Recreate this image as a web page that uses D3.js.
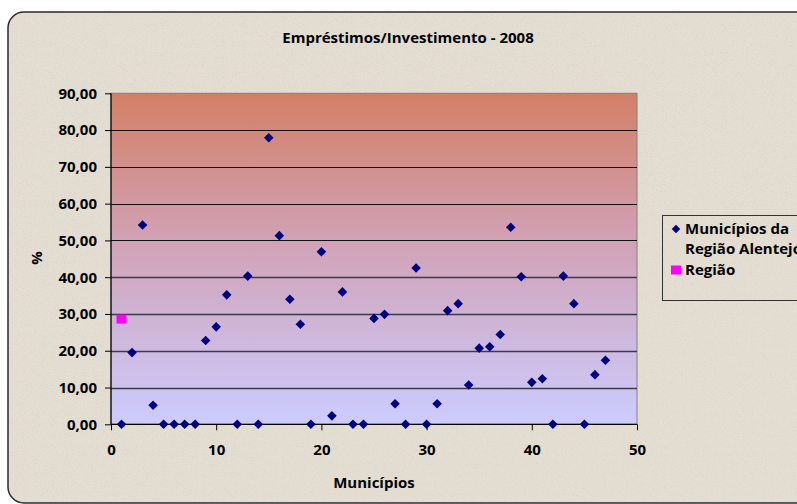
<!DOCTYPE html>
<html>
<head>
<meta charset="utf-8">
<script src="https://cdn.jsdelivr.net/npm/d3@7"></script>
<style>
  html, body { margin: 0; padding: 0; background: #fff; }
  svg { display: block; font-family: "Open Sans", Lato, sans-serif; }
</style>
</head>
<body>
<svg id="chart" width="797" height="504"></svg>
<script>
// ---- data ----
const municipios = [1,2,3,4,5,6,7,8,9,10,11,12,13,14,15,16,17,18,19,20,21,22,23,24,25,26,27,28,29,30,31,32,33,34,35,36,37,38,39,40,41,42,43,44,45,46,47];
const valoresMunicipios = [0,19.5,54.2,5.2,0,0,0,0,22.8,26.5,35.2,0,40.3,0,77.9,51.3,34.0,27.2,0,46.9,2.3,36.0,0,0,28.8,29.9,5.6,0,42.5,0,5.6,30.9,32.8,10.7,20.7,21.1,24.4,53.6,40.1,11.4,12.4,0,40.3,32.8,0,13.5,17.4];
const regiaoX = [1];
const regiaoValores = [28.6];
const xTicks = [0,10,20,30,40,50];
const yTicks = [0,10,20,30,40,50,60,70,80,90];
const titulo = "Empréstimos/Investimento - 2008";
const tituloX = "Municípios";
const tituloY = "%";
const legenda = [["Municípios da", "Região Alentejo"], ["Região"]];

// ---- layout ----
const svg = d3.select("#chart");
const W = 797, H = 504;
const plot = {left: 111, top: 93.3, right: 637, bottom: 424.3};
const FONT = "'Open Sans', sans-serif";
const FS = 15;

const defs = svg.append("defs");
const grad = defs.append("linearGradient").attr("id", "bg").attr("x1", 0).attr("y1", 0).attr("x2", 0).attr("y2", 1);
grad.append("stop").attr("offset", "0%").attr("stop-color", "#d37f66");
grad.append("stop").attr("offset", "45%").attr("stop-color", "#d1a2b6");
grad.append("stop").attr("offset", "100%").attr("stop-color", "#ccccff");

const filt = defs.append("filter").attr("id", "noise").attr("x", 0).attr("y", 0).attr("width", "100%").attr("height", "100%");
filt.append("feTurbulence").attr("type", "fractalNoise").attr("baseFrequency", 0.9).attr("numOctaves", 2).attr("seed", 3).attr("result", "t");
filt.append("feColorMatrix").attr("in", "t").attr("type", "matrix")
  .attr("values", "0 0 0 0 0.45  0 0 0 0 0.42  0 0 0 0 0.38  0 0 0 -1.6 0.75").attr("result", "n");
filt.append("feComposite").attr("in", "n").attr("in2", "SourceGraphic").attr("operator", "in");

const clip = defs.append("clipPath").attr("id", "chartclip");
clip.append("rect").attr("x", 8).attr("y", 12).attr("width", 820).attr("height", 491).attr("rx", 16);

// chart background
svg.append("rect").attr("x", 0).attr("y", 0).attr("width", W).attr("height", H).attr("fill", "#fff");
svg.append("rect").attr("x", 8).attr("y", 12).attr("width", 820).attr("height", 491).attr("rx", 16).attr("fill", "#e3ddd2");
svg.append("rect").attr("x", 8).attr("y", 12).attr("width", 820).attr("height", 491).attr("rx", 16)
  .attr("fill", "#e3ddd2").attr("filter", "url(#noise)").attr("clip-path", "url(#chartclip)").attr("opacity", 0.3);
svg.append("rect").attr("x", 8).attr("y", 12).attr("width", 820).attr("height", 491).attr("rx", 16)
  .attr("fill", "none").attr("stroke", "#2b2b2b").attr("stroke-width", 1.5);

// scales
const x = d3.scaleLinear().domain([0, 50]).range([plot.left, plot.right]);
const y = d3.scaleLinear().domain([0, 90]).range([plot.bottom, plot.top]);
const fmt = v => d3.format(".2f")(v).replace(".", ",");

// plot area
svg.append("rect").attr("x", plot.left).attr("y", plot.top)
  .attr("width", plot.right - plot.left).attr("height", plot.bottom - plot.top)
  .attr("fill", "url(#bg)").attr("stroke", "#808080").attr("stroke-width", 1);

// gridlines
svg.append("g").selectAll("line").data(yTicks.filter(d => d > 0 && d < 90)).join("line")
  .attr("x1", plot.left).attr("x2", plot.right)
  .attr("y1", d => Math.round(y(d)) + 0.5).attr("y2", d => Math.round(y(d)) + 0.5)
  .attr("stroke", d => d >= 50 ? "#111" : "#3a3a48").attr("stroke-width", d => d >= 50 ? 1 : 1.4);

// axes
const yAxis = svg.append("g").attr("transform", `translate(${plot.left},0)`)
  .call(d3.axisLeft(y).tickValues(yTicks).tickFormat(fmt).tickSize(6).tickPadding(8));
const xAxis = svg.append("g").attr("transform", `translate(0,${plot.bottom})`)
  .call(d3.axisBottom(x).tickValues(xTicks).tickFormat(d3.format("d")).tickSize(6).tickPadding(14));
[yAxis, xAxis].forEach(a => {
  a.select(".domain").attr("stroke", "#000").attr("stroke-width", 1.2);
  a.selectAll(".tick line").attr("stroke", "#000");
  a.selectAll("text").attr("font-family", FONT).attr("font-weight", "bold")
    .attr("font-size", FS).attr("fill", "#000");
});
xAxis.select(".domain").attr("d", `M${plot.left},0H${plot.right}`);
yAxis.select(".domain").attr("d", `M0,${plot.bottom}V${plot.top}`);

// markers
const diamond = d3.symbol().type(d3.symbolSquare).size(46);
svg.append("g").selectAll("path").data(municipios.map((m, i) => [m, valoresMunicipios[i]])).join("path")
  .attr("d", diamond)
  .attr("transform", d => `translate(${x(d[0])},${y(d[1])}) rotate(45)`)
  .attr("fill", "#000080");
svg.append("g").selectAll("rect").data(regiaoX.map((r, i) => [r, regiaoValores[i]])).join("rect")
  .attr("x", d => x(d[0]) - 5).attr("y", d => y(d[1]) - 4.5)
  .attr("width", 10).attr("height", 9).attr("fill", "#ff00ff");

// titles
const T = (sel) => sel.attr("font-family", FONT).attr("font-weight", "bold").attr("font-size", FS).attr("fill", "#000");
svg.append("text").attr("x", 408).attr("y", 43).attr("text-anchor", "middle").call(T).text(titulo);
svg.append("text").attr("x", (plot.left + plot.right) / 2).attr("y", 488).attr("text-anchor", "middle").call(T).text(tituloX);
svg.append("text").attr("transform", "translate(42,258) rotate(-90)").attr("text-anchor", "middle").call(T).text(tituloY);

// legend
const lg = svg.append("g");
lg.append("rect").attr("x", 662.5).attr("y", 215.5).attr("width", 160).attr("height", 85)
  .attr("fill", "none").attr("stroke", "#333").attr("stroke-width", 1);
lg.append("path").attr("d", d3.symbol().type(d3.symbolSquare).size(36)).attr("transform", "translate(676,229) rotate(45)").attr("fill", "#000080");
lg.append("rect").attr("x", 671).attr("y", 265.5).attr("width", 10).attr("height", 9).attr("fill", "#ff00ff");
const lt = lg.append("text").call(T);
lt.append("tspan").attr("x", 685).attr("y", 234).text(legenda[0][0]);
lt.append("tspan").attr("x", 685).attr("y", 254).text(legenda[0][1]);
lt.append("tspan").attr("x", 685).attr("y", 275).text(legenda[1][0]);
</script>
</body>
</html>
